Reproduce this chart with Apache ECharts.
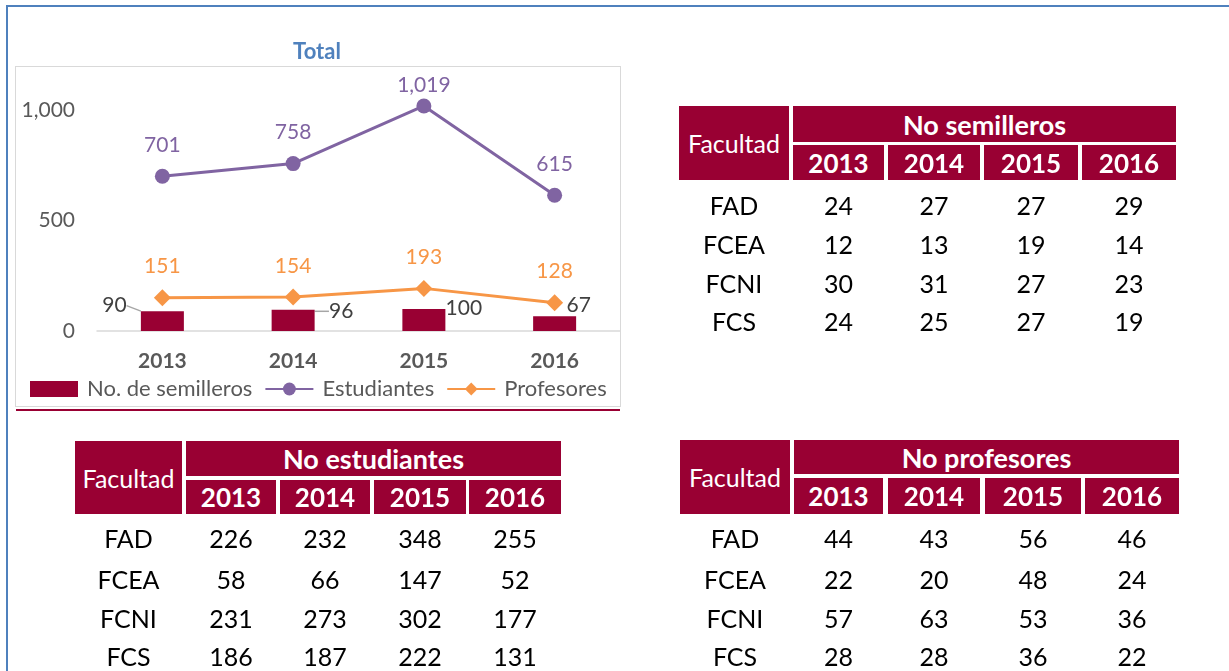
<!DOCTYPE html>
<html lang="es">
<head>
<meta charset="UTF-8">
<title>Total</title>
<script src="https://cdn.jsdelivr.net/npm/echarts@6/dist/echarts.min.js"></script>
<style>
  html, body { margin: 0; padding: 0; background: #fff; }
  body { width: 1229px; height: 671px; position: relative; overflow: hidden; font-family: Lato, "Noto Sans", sans-serif; }
  #frame { position: absolute; left: 6px; top: 5px; width: 1240px; height: 700px; border-top: 2px solid #4f81bd; border-left: 2px solid #4f81bd; }
  #box { position: absolute; left: 15px; top: 66px; width: 604px; height: 339px; border: 1.5px solid #d9d9d9; }
  #redline { position: absolute; left: 16px; top: 409px; width: 604px; height: 1.5px; background: #990033; }
  #main { position: absolute; left: 0; top: 0; width: 1229px; height: 671px; }
  .cell { position: absolute; display: flex; align-items: center; justify-content: center; box-sizing: border-box; white-space: nowrap; }
  .hd { background: #990033; color: #fff; }
</style>
</head>
<body>
<div id="frame"></div>
<div id="box"></div>
<div id="redline"></div>
<div id="main"></div>
<div id="tables"></div>
<script type="text/javascript">
// datos del grafico
var years = ['2013', '2014', '2015', '2016'];
var semilleros = [90, 96, 100, 67];
var estudiantes = [701, 758, 1019, 615];
var profesores = [151, 154, 193, 128];

// datos de las tablas
var facultades = ['FAD', 'FCEA', 'FCNI', 'FCS'];
var semPorFacultad = [[24, 27, 27, 29], [12, 13, 19, 14], [30, 31, 27, 23], [24, 25, 27, 19]];
var estPorFacultad = [[226, 232, 348, 255], [58, 66, 147, 52], [231, 273, 302, 177], [186, 187, 222, 131]];
var profPorFacultad = [[44, 43, 56, 46], [22, 20, 48, 24], [57, 63, 53, 36], [28, 28, 36, 22]];

var font = 'Lato, "Noto Sans", sans-serif';
var gris = '#595959';

// desplazamiento de las etiquetas de barras (estilo Excel)
var barLabelShift = [[-48, 10], [48, 17], [40, 15], [24, 5]];

var myChart = echarts.init(document.getElementById('main'));

var option = {
    animation: false,
    textStyle: { fontFamily: font },
    title: {
        text: 'Total',
        left: 317, top: 41, textAlign: 'center', padding: 0,
        textStyle: { color: '#4f81bd', fontSize: 22, fontWeight: 'bold', fontFamily: font }
    },
    legend: {
        left: 30, top: 378, padding: 0,
        itemWidth: 48, itemHeight: 16, itemGap: 12,
        textStyle: { color: gris, fontSize: 22, fontFamily: font, padding: [0, 0, 0, 4] },
        data: [
            { name: 'No. de semilleros', icon: 'rect' },
            { name: 'Estudiantes' },
            { name: 'Profesores' }
        ]
    },
    grid: { left: 97, right: 609, top: 66, bottom: 340 },
    xAxis: {
        type: 'category',
        data: years,
        axisTick: { show: false },
        axisLine: { lineStyle: { color: '#d9d9d9', width: 1.5 } },
        axisLabel: { color: gris, fontSize: 21, fontWeight: 'bold', margin: 20, fontFamily: font }
    },
    yAxis: {
        type: 'value',
        min: 0, max: 1200, interval: 500,
        splitLine: { show: false },
        axisLine: { show: false },
        axisTick: { show: false },
        axisLabel: {
            color: gris, fontSize: 21, margin: 22, fontFamily: font,
            formatter: function (v) { return v % 500 === 0 ? v.toLocaleString('en-US') : ''; }
        }
    },
    series: [
        {
            name: 'No. de semilleros',
            type: 'bar',
            barWidth: 43,
            itemStyle: { color: '#990033' },
            label: { show: true, position: 'top', distance: 5, color: '#404040', fontSize: 21, fontFamily: font },
            labelLine: { show: false, lineStyle: { color: '#a6a6a6', width: 1.5 } },
            labelLayout: function (p) {
                var s = barLabelShift[p.dataIndex];
                return { dx: s[0], dy: s[1] };
            },
            data: semilleros.map(function (v, i) {
                return { value: v, labelLine: { show: i < 2 } };
            })
        },
        {
            name: 'Estudiantes',
            type: 'line',
            symbol: 'circle', symbolSize: 15,
            lineStyle: { color: '#8064a2', width: 3 },
            itemStyle: { color: '#8064a2' },
            label: {
                show: true, position: 'top', distance: 13, color: '#8064a2', fontSize: 21, fontFamily: font,
                formatter: function (p) { return p.value.toLocaleString('en-US'); }
            },
            data: estudiantes.map(function (v) {
                // Excel mantiene la etiqueta del maximo dentro del area
                return v > 1000 ? { value: v, label: { distance: 3 } } : v;
            })
        },
        {
            name: 'Profesores',
            type: 'line',
            symbol: 'diamond', symbolSize: 17,
            lineStyle: { color: '#f79646', width: 3 },
            itemStyle: { color: '#f79646' },
            label: { show: true, position: 'top', distance: 12, color: '#f79646', fontSize: 21, fontFamily: font },
            data: profesores
        }
    ]
};
myChart.setOption(option);

// tablas por facultad
function cell(parent, x0, x1, y0, y1, text, cls, style) {
    var d = document.createElement('div');
    d.className = 'cell ' + (cls || '');
    d.style.left = x0 + 'px';
    d.style.width = (x1 - x0) + 'px';
    d.style.top = y0 + 'px';
    d.style.height = (y1 - y0) + 'px';
    d.textContent = text;
    for (var k in style) d.style[k] = style[k];
    parent.appendChild(d);
}

function makeTable(title, cols, hy, rowY, rows) {
    var wrap = document.getElementById('tables');
    cell(wrap, cols[0][0], cols[0][1], hy[0], hy[3], 'Facultad', 'hd', { fontSize: '25px' });
    cell(wrap, cols[1][0], cols[4][1], hy[0], hy[1], title, 'hd', { fontSize: '27px', fontWeight: 'bold' });
    for (var j = 0; j < 4; j++) {
        cell(wrap, cols[j + 1][0], cols[j + 1][1], hy[2], hy[3], years[j], 'hd', { fontSize: '26px', fontWeight: 'bold' });
    }
    for (var i = 0; i < facultades.length; i++) {
        var ds = { fontSize: '25px', color: '#000' };
        cell(wrap, cols[0][0], cols[0][1], rowY[i] - 18, rowY[i] + 18, facultades[i], '', ds);
        for (var j = 0; j < 4; j++) {
            cell(wrap, cols[j + 1][0], cols[j + 1][1], rowY[i] - 18, rowY[i] + 18, String(rows[i][j]), '', ds);
        }
    }
}

makeTable('No semilleros',
    [[679, 789], [793, 884], [888, 980], [984, 1078], [1082, 1176]],
    [106, 142, 145, 180], [205, 244, 283, 321], semPorFacultad);
makeTable('No estudiantes',
    [[75, 182], [186, 276], [280, 370], [374, 466], [469, 561]],
    [441, 476, 480, 514], [538, 579, 618, 656], estPorFacultad);
makeTable('No profesores',
    [[680, 790], [794, 883], [888, 980], [985, 1081], [1085, 1179]],
    [440, 474, 478, 514], [538, 579, 618, 656], profPorFacultad);
</script>
</body>
</html>
